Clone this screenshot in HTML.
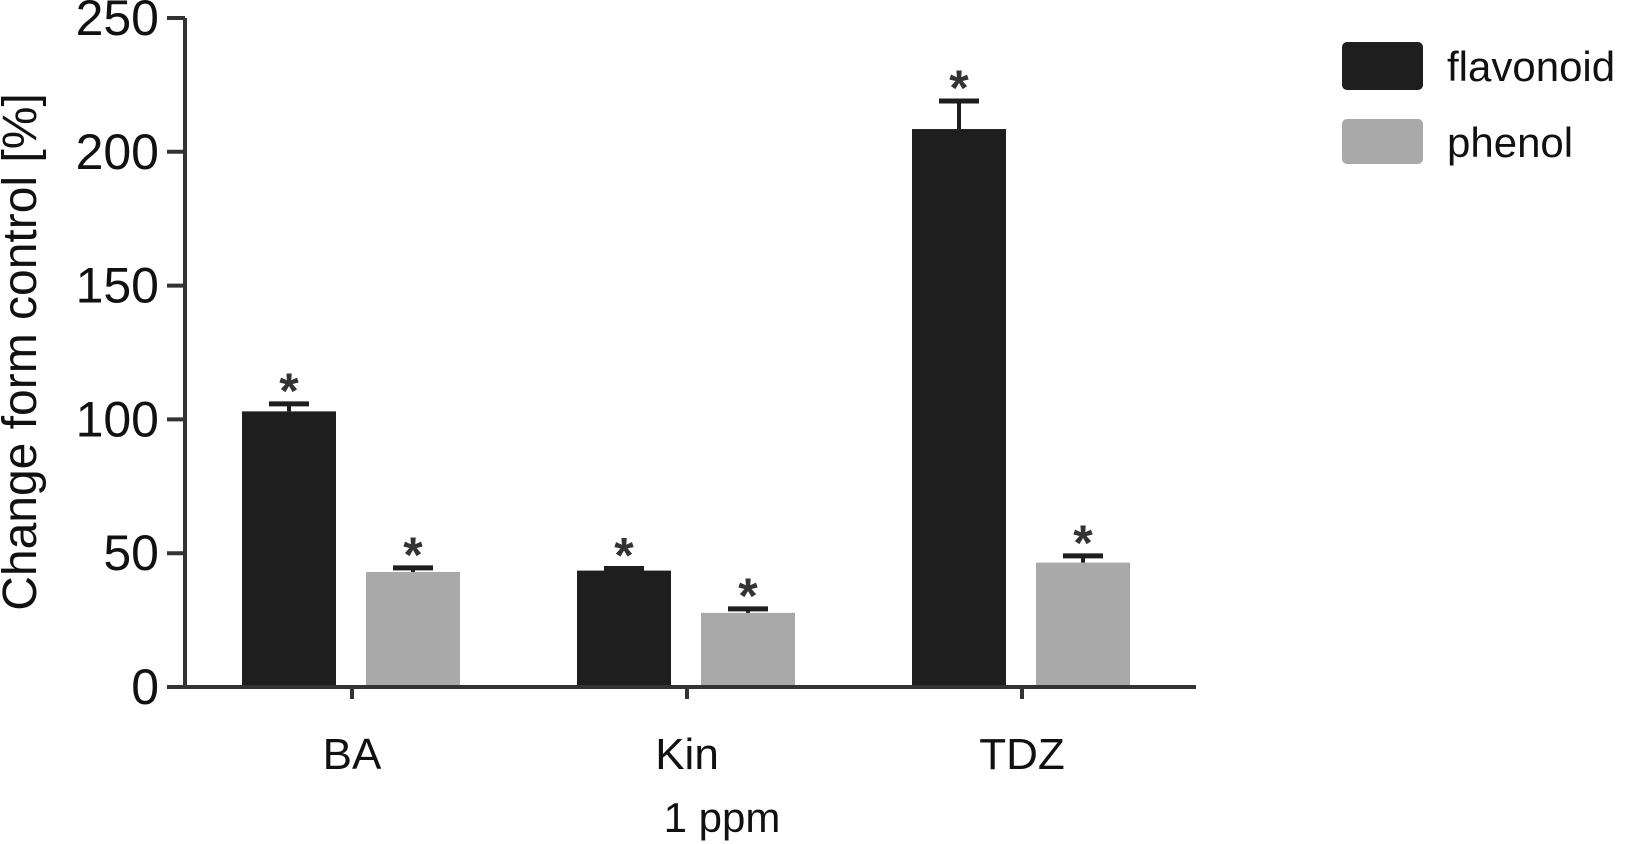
<!DOCTYPE html>
<html><head><meta charset="utf-8"><style>
html,body{margin:0;padding:0;background:#fff;}
svg{display:block;font-family:"Liberation Sans",sans-serif;}
</style></head><body>
<svg id="chart" width="1640" height="844">
<g id="plot"></g>
</svg>
<script>
const categories = ["BA","Kin","TDZ"];
const flavonoid = [103, 43.5, 208.5];
const flavonoidErr = [2.8, 0.8, 10.5];
const phenol = [43, 27.7, 46.5];
const phenolErr = [1.5, 1.5, 2.5];
const yTicks = [0,50,100,150,200,250];

const NS="http://www.w3.org/2000/svg";
const g=document.getElementById('plot');
const X0=185, X1=1196, Y0=687, YTOP=18, YMAX=250;
function y(v){return Y0-(v/YMAX)*(Y0-YTOP);}
const centers=[352,689,1022];
function xc(i){return centers[0]+i*(centers[2]-centers[0])/2;}
function mk(tag,attrs,name,text){const e=document.createElementNS(NS,tag);for(const k in attrs)e.setAttribute(k,attrs[k]);


if(text!==undefined)e.textContent=text;g.appendChild(e);return e;}

const BW=94;
categories.forEach((c,i)=>{
  const cx=xc(i);
  [[flavonoid,flavonoidErr,'#1e1e1e',-110,'flavonoid'],[phenol,phenolErr,'#a9a9a9',14,'phenol']].forEach(([vals,errs,col,off,nm])=>{
    const x=cx+off, v=vals[i], e=errs[i];
    mk('rect',{x:x,y:y(v),width:BW,height:Y0-y(v),fill:col},'bar-'+nm+'-'+c.toLowerCase());
    const mid=x+BW/2;
    mk('line',{x1:mid,x2:mid,y1:y(v),y2:y(v+e),stroke:'#1e1e1e','stroke-width':4},'error-bar-'+nm+'-'+c.toLowerCase());
    mk('line',{x1:mid-20,x2:mid+20,y1:y(v+e),y2:y(v+e),stroke:'#1e1e1e','stroke-width':5},'error-cap-'+nm+'-'+c.toLowerCase());
    mk('text',{x:mid,y:y(v+e)+4,'font-size':50,'font-weight':'bold','text-anchor':'middle',fill:'#333'},'significance-star','*');
  });
  mk('line',{x1:cx,x2:cx,y1:Y0,y2:Y0+12,stroke:'#333','stroke-width':4},'x-tick');
  mk('text',{x:cx,y:769,'font-size':44,'text-anchor':'middle',fill:'#111'},'x-tick-label',c);
});
mk('line',{x1:X0,x2:X0,y1:YTOP,y2:Y0+2,stroke:'#333','stroke-width':4},'y-axis');
mk('line',{x1:X0-2,x2:X1,y1:Y0,y2:Y0,stroke:'#333','stroke-width':4},'x-axis');
yTicks.forEach(t=>{
  mk('line',{x1:X0-18,x2:X0,y1:y(t),y2:y(t),stroke:'#333','stroke-width':4},'y-tick');
  mk('text',{x:X0-26,y:y(t)+17,'font-size':50,'text-anchor':'end',fill:'#111'},'y-tick-label',t);
});
mk('text',{x:0,y:0,'font-size':48,'text-anchor':'middle',fill:'#111',transform:'translate(36,352) rotate(-90)'},'y-axis-title','Change form control [%]');
mk('text',{x:722,y:832,'font-size':42,'text-anchor':'middle',fill:'#111'},'x-axis-title','1 ppm');
mk('rect',{x:1342,y:42,width:81,height:48,rx:5,fill:'#1e1e1e'},'legend-swatch-flavonoid');
mk('text',{x:1447,y:81,'font-size':42,fill:'#111'},'legend-label-flavonoid','flavonoid');
mk('rect',{x:1342,y:119,width:81,height:45,rx:5,fill:'#a9a9a9'},'legend-swatch-phenol');
mk('text',{x:1447,y:157,'font-size':42,fill:'#111'},'legend-label-phenol','phenol');
</script>
</body></html>
